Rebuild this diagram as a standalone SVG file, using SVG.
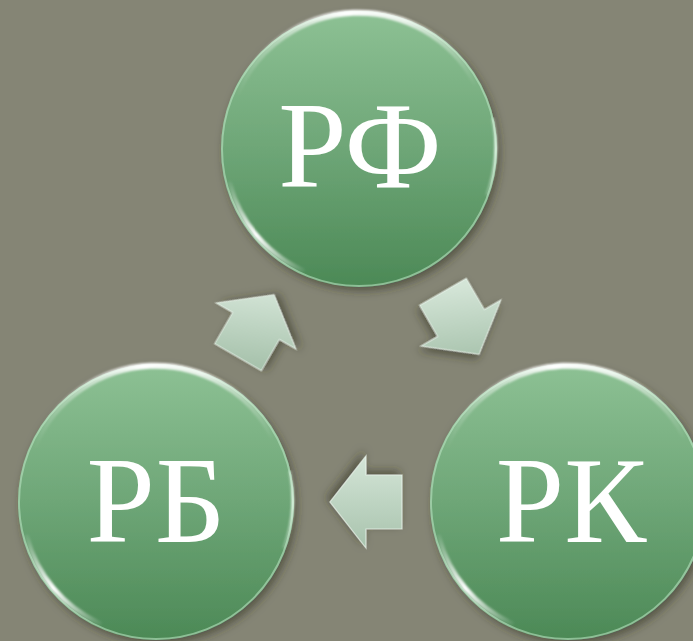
<svg xmlns="http://www.w3.org/2000/svg" xmlns:xlink="http://www.w3.org/1999/xlink" width="693" height="641" viewBox="0 0 693 641">
  <style>
    .lbl { font-family: "Liberation Serif", "DejaVu Serif", serif; font-size: 123px; fill: #ffffff; text-anchor: middle; }
    .arrow { stroke: #eef8f0; stroke-width: 1.2; stroke-opacity: 0.7; }
    .hl { fill: none; stroke-linecap: round; }
  </style>
  <defs>
    <linearGradient id="gBall" x1="0" y1="0" x2="0" y2="1">
      <stop offset="0" stop-color="#8dc194"/>
      <stop offset="0.5" stop-color="#6ea677"/>
      <stop offset="1" stop-color="#4c8956"/>
    </linearGradient>
    <linearGradient id="gHlTop" gradientUnits="userSpaceOnUse" x1="-122" y1="0" x2="118" y2="0">
      <stop offset="0" stop-color="#ffffff" stop-opacity="0"/>
      <stop offset="0.45" stop-color="#ffffff" stop-opacity="1"/>
      <stop offset="0.7" stop-color="#ffffff" stop-opacity="0.8"/>
      <stop offset="1" stop-color="#ffffff" stop-opacity="0"/>
    </linearGradient>
    <linearGradient id="gHlLow" gradientUnits="userSpaceOnUse" x1="-52" y1="124" x2="-132" y2="30">
      <stop offset="0" stop-color="#ffffff" stop-opacity="0"/>
      <stop offset="0.5" stop-color="#ffffff" stop-opacity="1"/>
      <stop offset="1" stop-color="#ffffff" stop-opacity="0"/>
    </linearGradient>
    <linearGradient id="gHlRight" gradientUnits="userSpaceOnUse" x1="0" y1="-60" x2="0" y2="60">
      <stop offset="0" stop-color="#e6f8ea" stop-opacity="0"/>
      <stop offset="0.5" stop-color="#e6f8ea" stop-opacity="0.9"/>
      <stop offset="1" stop-color="#e6f8ea" stop-opacity="0"/>
    </linearGradient>
    <linearGradient id="gArrL" x1="0" y1="1" x2="0" y2="0">
      <stop offset="0" stop-color="#d4e5d7"/>
      <stop offset="1" stop-color="#a8c3ad"/>
    </linearGradient>
    <linearGradient id="gArrU" x1="0" y1="0" x2="0" y2="1" gradientTransform="rotate(60 .5 .5)">
      <stop offset="0" stop-color="#d4e5d7"/>
      <stop offset="1" stop-color="#a8c3ad"/>
    </linearGradient>
    <linearGradient id="gArrD" x1="0" y1="0" x2="0" y2="1" gradientTransform="rotate(-60 .5 .5)">
      <stop offset="0" stop-color="#d4e5d7"/>
      <stop offset="1" stop-color="#a8c3ad"/>
    </linearGradient>
    <filter id="shadow" x="-20%" y="-20%" width="150%" height="150%">
      <feDropShadow dx="3" dy="4" stdDeviation="4" flood-color="#2e2e24" flood-opacity="0.55"/>
    </filter>
    <filter id="soft" filterUnits="userSpaceOnUse" x="-150" y="-150" width="300" height="300">
      <feGaussianBlur stdDeviation="0.8"/>
    </filter>
    <g id="ball">
      <circle r="138" fill="url(#gBall)" filter="url(#shadow)"/>
      <circle r="137" fill="none" stroke="#b9e3c2" stroke-width="2" stroke-opacity="0.6"/>
      <g filter="url(#soft)">
        <path class="hl" d="M -121.4 -56.6 A 132 132 0 0 1 116 -67" stroke="url(#gHlTop)" stroke-width="6"/>
        <path class="hl" d="M -56.6 121.4 A 133 133 0 0 1 -129.4 34.7" stroke="url(#gHlLow)" stroke-width="5"/>
        <path class="hl" d="M 128 45 A 135 135 0 0 0 134 -30" stroke="url(#gHlRight)" stroke-width="3"/>
      </g>
    </g>
    <path id="arr" d="M -36 -27 L 0 -27 L 0 -46 L 36 0 L 0 46 L 0 27 L -36 27 Z"/>
  </defs>

  <rect width="693" height="641" fill="#858575"/>

  <g id="connectors">
    <g id="arrow-rb-rf" transform="translate(256 326) rotate(-60)">
      <use xlink:href="#arr" class="arrow" fill="url(#gArrU)" filter="url(#shadow)"/>
    </g>
    <g id="arrow-rf-rk" transform="translate(461 323) rotate(60)">
      <use xlink:href="#arr" class="arrow" fill="url(#gArrD)" filter="url(#shadow)"/>
    </g>
    <g id="arrow-rk-rb" transform="translate(366 502) rotate(180)">
      <use xlink:href="#arr" class="arrow" fill="url(#gArrL)" filter="url(#shadow)"/>
    </g>
  </g>

  <g id="node-rf" transform="translate(359 149)">
    <use xlink:href="#ball"/>
    <text class="lbl" x="1" y="38">РФ</text>
  </g>
  <g id="node-rb" transform="translate(156 502)">
    <use xlink:href="#ball"/>
    <text class="lbl" x="0" y="40">РБ</text>
  </g>
  <g id="node-rk" transform="translate(568 502)">
    <use xlink:href="#ball"/>
    <text class="lbl" x="3" y="40">РК</text>
  </g>
</svg>
